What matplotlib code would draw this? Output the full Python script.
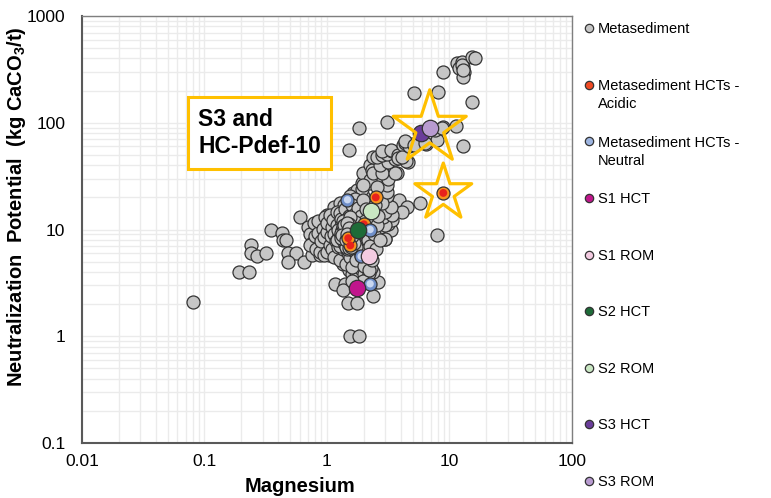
import matplotlib
matplotlib.use("Agg")
import matplotlib.pyplot as plt
from matplotlib.lines import Line2D

plt.rcParams["font.family"] = ["Liberation Sans", "DejaVu Sans"]
plt.rcParams["mathtext.fontset"] = "custom"
plt.rcParams["mathtext.rm"] = "Liberation Sans"
plt.rcParams["mathtext.bf"] = "Liberation Sans:bold"

# Metasediment samples (Mg, NP)
meta_mg = [0.08, 0.19, 0.23, 0.24, 0.24, 0.27, 0.32, 0.35, 0.43, 0.44, 0.46, 0.48, 0.56, 0.48, 0.65, 0.6,
           0.75, 0.88, 1.03,
           1.16, 1.40, 1.34, 1.49, 1.75, 2.39, 2.47, 2.62, 1.54, 1.84, 1.36, 1.59, 1.98, 2.11, 2.39, 1.5,
           1.6, 1.7, 1.8, 1.85, 2.0, 2.1, 2.2, 2.3, 1.95, 1.6, 3.0,
           3.3, 3.16, 3.37, 3.07, 3.9, 4.5, 4.07, 5.7, 7.9, 2.97, 2.71, 2.97, 2.87, 3.37, 2.97, 3.3, 2.71,
           3.07, 2.47, 2.8, 1.98, 1.64, 1.75, 1.92, 1.0, 1.13, 1.27, 1.54, 3.07, 1.55, 1.38, 1.7,
           1.92, 2.24, 2.62, 3.07, 3.16, 3.7, 1.98, 2.54, 2.97, 3.45, 2.24, 2.24, 1.98, 2.54, 3.16, 2.32,
           2.39, 2.8, 3.6, 2.71, 3.16, 3.59, 2.39, 2.54, 2.8, 3.07, 3.4, 2.8, 3.3, 3.8, 4.2, 4.9, 4.6, 4.4,
           3.8, 4.1, 4.3, 4.7, 6.4, 7.9, 1.52, 1.84, 3.07, 5.1, 8.0, 8.8, 11.3, 12.9, 15.2, 8.8, 11.5,
           12.0, 12.6, 12.9, 13.1, 12.9, 12.6, 13.0, 15.2, 16.0, 4.3, 5.1, 6.3, 7.6, 8.7,
           0.70, 0.72, 0.75, 0.73, 0.78, 0.80, 0.82, 0.85, 0.85, 0.88, 0.90, 0.92, 0.95, 0.95, 0.97, 1.0,
           1.0, 1.0, 1.05, 1.06, 1.08, 1.1, 1.1, 1.12, 1.15, 1.15, 1.18, 1.2, 1.2, 1.22, 1.25, 1.25, 1.27,
           1.28, 1.3, 1.3, 1.32, 1.35, 1.35, 1.38, 1.4, 1.4, 1.42, 1.42, 1.45, 1.45, 1.48, 1.5, 1.5, 1.52,
           1.55, 1.55, 1.58, 1.6, 1.6, 1.6, 1.62, 1.65, 1.65, 1.7, 1.7, 1.72, 1.75, 1.75, 1.8, 1.8, 1.85,
           1.85, 1.9, 1.9, 1.95, 1.95, 2.0, 2.0, 2.05, 2.1, 2.1, 2.15, 2.2, 2.2, 2.25, 2.3, 2.35, 2.4, 2.45,
           2.5, 2.55, 2.6, 2.7,
           1.25, 1.28, 1.3, 1.32, 1.35, 1.36, 1.38, 1.4, 1.42, 1.44, 1.46, 1.48, 1.5, 1.52, 1.54, 1.56,
           1.58, 1.6, 1.62, 1.64, 1.66, 1.68, 1.7, 1.72, 1.45, 1.5, 1.35, 1.2, 1.22, 1.55,
           1.30, 1.33, 1.37, 1.41, 1.43, 1.47, 1.51, 1.53, 1.57, 1.61, 1.63, 1.67, 1.34, 1.39, 1.44, 1.49,
           1.53, 1.58, 1.62, 1.31, 1.36, 1.41, 1.46, 1.51, 1.56, 1.40, 1.48, 1.55, 1.43, 1.52, 1.38, 1.46,
           1.57, 1.65, 1.29, 1.33, 1.42, 1.50, 1.59, 1.47]
meta_np = [2.1, 4.0, 4.0, 7.1, 6.0, 5.6, 6.0, 9.9, 9.2, 8.0, 8.0, 6.0, 6.0, 5.0, 5.0, 13.0,
           5.8, 5.8, 5.8,
           3.1, 3.1, 2.7, 2.04, 2.04, 2.4, 3.2, 3.2, 1.0, 1.0, 4.8, 4.5, 4.0, 3.9, 4.0, 4.2,
           3.8, 4.2, 3.6, 4.4, 3.8, 3.4, 3.9, 4.4, 3.3, 3.3, 8.1,
           10.0, 11.3, 12.2, 14.7, 19.0, 16.3, 14.7, 17.8, 8.9, 8.1, 10.6, 11.0, 13.0, 13.7, 14.7, 16.3, 21.0,
           20.4, 18.2, 17.6, 20.4, 21.8, 23.4, 24.0, 13.7, 16.4, 17.6, 13.2, 22.6, 20.5, 16.8, 19.5,
           27.0, 27.0, 27.0, 26.0, 31.0, 34.0, 34.0, 35.0, 34.0, 34.0, 40.0, 29.0, 26.0, 25.0, 30.0, 36.0,
           34.0, 34.0, 34.0, 40.0, 43.0, 46.0, 48.0, 48.0, 50.0, 51.0, 54.0, 54.0, 56.0, 50.0, 62.0, 63.0, 43.0, 44.0,
           47.0, 48.0, 64.0, 60.0, 63.0, 69.0, 56.0, 90.0, 102.0, 190.0, 195.0, 92.0, 93.0, 60.0, 158.0, 300.0, 360.0,
           325.0, 370.0, 330.0, 300.0, 270.0, 350.0, 310.0, 410.0, 400.0, 67.0, 62.0, 64.0, 85.0, 89.0,
           10.5, 9.0, 7.5, 7.2, 11.4, 8.6, 6.5, 9.2, 12.0, 6.2, 7.8, 10.2, 5.8, 8.5, 13.0, 6.2,
           9.5, 11.5, 7.2, 13.7, 8.6, 10.5, 6.5, 12.2, 9.0, 5.5, 7.8, 11.0, 14.5, 6.8, 8.5, 10.0, 14.2,
           5.2, 12.5, 7.5, 9.5, 6.5, 11.2, 8.2, 15.5, 10.2, 4.8, 7.0, 12.5, 9.0, 6.0, 11.0, 8.0, 13.5,
           5.5, 9.8, 7.0, 17.0, 12.0, 4.5, 8.8, 6.3, 10.8, 14.0, 7.8, 5.2, 9.5, 12.5, 6.8, 16.0, 8.5,
           11.0, 5.8, 13.5, 7.5, 19.0, 9.0, 4.6, 12.0, 6.5, 15.5, 8.0, 10.5, 4.2, 7.0, 12.5, 5.2, 9.0, 17.0,
           6.5, 11.0, 13.5, 8.0,
           9.2, 7.0, 10.8, 8.0, 9.0, 7.6, 10.5, 8.6, 11.8, 7.8, 10.0, 8.4, 9.5, 7.4, 10.6, 8.2,
           11.5, 9.2, 7.2, 10.2, 8.0, 11.8, 9.0, 6.8, 6.5, 12.8, 12.0, 8.0, 9.8, 13.0,
           8.8, 10.0, 9.6, 9.9, 8.9, 9.3, 10.2, 8.7, 9.9, 8.5, 9.6, 9.4, 7.9, 8.1, 8.3, 8.9,
           9.1, 9.7, 10.4, 9.3, 10.7, 10.9, 11.1, 11.3, 10.1, 7.3, 7.7, 7.8, 6.9, 6.7, 11.0, 11.6,
           6.9, 7.4, 8.3, 8.9, 7.9, 10.3, 8.6, 9.0]

acid_mg = [1.55, 1.49, 2.0, 2.5, 8.9]
acid_np = [7.1, 8.3, 11.2, 20.0, 22.0]
neut_mg = [1.47, 2.25, 1.9, 2.25]
neut_np = [19.0, 10.0, 5.6, 3.1]

site_labels = ["S1 HCT", "S1 ROM", "S2 HCT", "S2 ROM", "S3 HCT", "S3 ROM"]
site_mg = [1.75, 2.2, 1.8, 2.3, 5.9, 6.9]
site_np = [2.85, 5.6, 10.0, 15.0, 81.0, 89.0]
site_colors = ["#C0168C", "#F3CBE1", "#1E6B38", "#C9E7C3", "#6A3D9A", "#B89BD0"]

# highlighted samples
star_mg = [6.9, 8.9]
star_np = [89.0, 22.0]

fig = plt.figure(figsize=(7.71, 4.98), dpi=100)
ax = fig.add_axes([82 / 771, 55 / 498, 490 / 771, 427 / 498])
ax.set_xscale("log")
ax.set_yscale("log")
ax.set_xlim(0.01, 100)
ax.set_ylim(0.1, 1000)

ax.grid(True, which="both", color="#EBEBEB", lw=1.0, zorder=0)
ax.set_axisbelow(True)

edge = "#333333"
ax.scatter(meta_mg, meta_np, s=88, c="#C6C6C6", edgecolors=edge, linewidths=0.9, zorder=2)
ax.scatter(acid_mg, acid_np, s=88, c="#F7941D", edgecolors=edge, linewidths=0.9, zorder=3)
ax.scatter(acid_mg, acid_np, s=32, c="#E8231C", edgecolors="none", zorder=3)
ax.scatter(neut_mg, neut_np, s=88, c="#6F8FC9", edgecolors=edge, linewidths=0.9, zorder=3)
ax.scatter(neut_mg, neut_np, s=28, c="#C9D7F0", edgecolors="none", zorder=3)
for m, n, col in zip(site_mg, site_np, site_colors):
    ax.scatter([m], [n], s=140, c=col, edgecolors=edge, linewidths=0.9, zorder=4)

ax.scatter(star_mg[:1], star_np[:1], s=3050, marker="*", facecolors="none",
           edgecolors="#FFC000", linewidths=2.3, zorder=5)
ax.scatter(star_mg[1:], star_np[1:], s=1850, marker="*", facecolors="none",
           edgecolors="#FFC000", linewidths=2.3, zorder=5)

ax.text(0.237, 0.726, "S3 and\nHC-Pdef-10", transform=ax.transAxes, fontsize=16.5,
        fontweight="bold", va="center", ha="left", linespacing=1.25, zorder=6,
        bbox=dict(boxstyle="square,pad=0.45", fc="white", ec="#FFC000", lw=2.2))

ax.set_xticks([0.01, 0.1, 1, 10, 100])
ax.set_xticklabels(["0.01", "0.1", "1", "10", "100"])
ax.set_yticks([0.1, 1, 10, 100, 1000])
ax.set_yticklabels(["0.1", "1", "10", "100", "1000"])
ax.tick_params(which="both", length=0, labelsize=12.5)
ax.tick_params(axis="y", pad=12)
ax.tick_params(axis="x", pad=8)

for side in ["left", "bottom"]:
    ax.spines[side].set_color("#595959")
    ax.spines[side].set_linewidth(1.5)
for side in ["top", "right"]:
    ax.spines[side].set_color("#7F7F7F")
    ax.spines[side].set_linewidth(1.0)

ax.set_xlabel("Magnesium", fontsize=14.5, fontweight="bold")
ax.xaxis.set_label_coords(0.445, -0.08)
ax.set_ylabel("Neutralization  Potential  (kg CaCO$_\\mathbf{3}$/t)", fontsize=14.5, fontweight="bold")
ax.yaxis.set_label_coords(-0.11, 0.553)

handles = [Line2D([], [], ls="none", marker="o", ms=6, mfc="#C6C6C6", mec=edge, mew=0.9),
           Line2D([], [], ls="none", marker="o", ms=6, mfc="#EF4A23", mec=edge, mew=0.9),
           Line2D([], [], ls="none", marker="o", ms=6, mfc="#9DB4E0", mec=edge, mew=0.9)]
for col in site_colors:
    handles.append(Line2D([], [], ls="none", marker="o", ms=6, mfc=col, mec=edge, mew=0.9))
labels = ["Metasediment", "Metasediment HCTs -", "Metasediment HCTs -"] + site_labels
leg = ax.legend(handles, labels, loc="upper left", bbox_to_anchor=(0.757, 0.955),
                bbox_transform=fig.transFigure, frameon=False, fontsize=10.5,
                labelspacing=2.92, handlelength=0.8, handletextpad=0.2,
                borderpad=0, borderaxespad=0)

fig.canvas.draw()
inv = fig.transFigure.inverted()
for txt, extra in zip(leg.get_texts()[1:3], ["Acidic", "Neutral"]):
    bb = txt.get_window_extent()
    x0, y0 = inv.transform((bb.x0, bb.y0 - 4))
    fig.text(x0, y0, extra, fontsize=10.5, ha="left", va="top")

fig.savefig("out.png", dpi=100)
